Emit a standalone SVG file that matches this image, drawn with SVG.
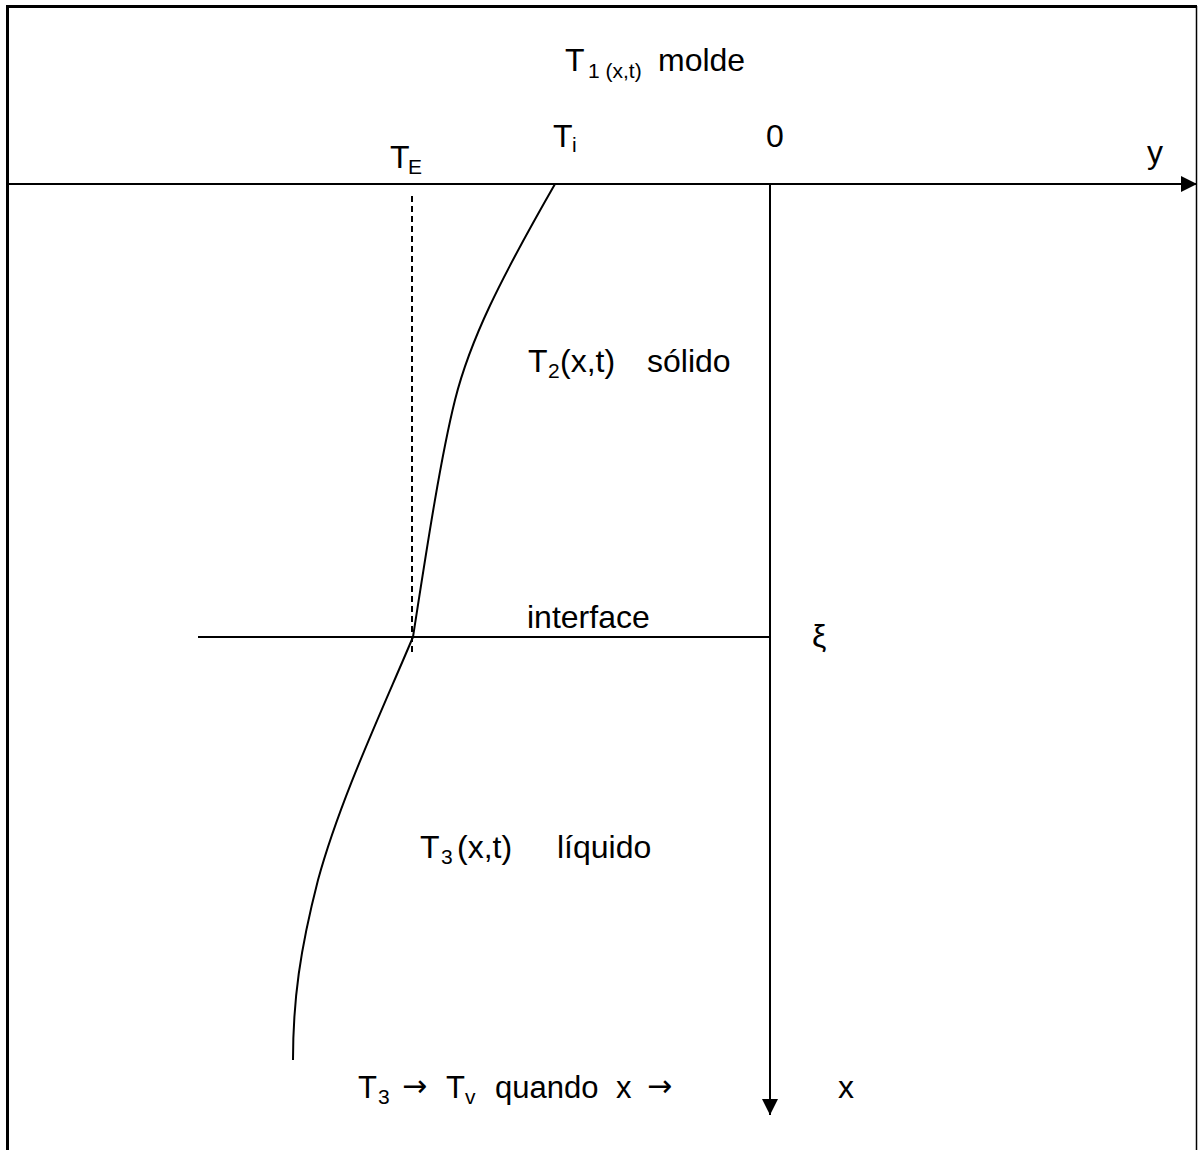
<svg xmlns="http://www.w3.org/2000/svg" width="1198" height="1150" viewBox="0 0 1198 1150">
<style>
text{font-family:"Liberation Sans",Arial,sans-serif;font-size:32px;fill:#000}
.sub{font-size:21px}
.b{font-size:31px}
.arr{font-family:"DejaVu Sans",sans-serif;font-size:30px}
.ln{stroke:#000;fill:none;stroke-width:2}
</style>
<defs>
<marker id="ahb" markerWidth="16" markerHeight="16" refX="16" refY="8" orient="auto" markerUnits="userSpaceOnUse" viewBox="0 0 16 16">
<path d="M0,0 L16,8 L0,16 z" fill="#000"/>
</marker>
</defs>
<rect width="1198" height="1150" fill="#fff"/>
<g id="frame">
<line x1="7.5" y1="6.5" x2="1197" y2="6.5" stroke="#000" stroke-width="3"/>
<line x1="7.5" y1="5" x2="7.5" y2="1150" stroke="#000" stroke-width="3"/>
<line x1="1196.5" y1="6" x2="1196.5" y2="1150" stroke="#000" stroke-width="1.5"/>
</g>
<g id="connectors">
<line class="ln" x1="8" y1="184" x2="1197" y2="184" stroke-width="2.5" marker-end="url(#ahb)"/>
<line class="ln" x1="770" y1="184" x2="770" y2="1115" marker-end="url(#ahb)"/>
<line class="ln" x1="198" y1="637" x2="770" y2="637"/>
<line class="ln" x1="412" y1="196" x2="412" y2="654" stroke-dasharray="6,4" stroke-width="1.5"/>
<path class="ln" d="M555,184 C500,280 470,340 455,400 C440,460 425,560 413,637" stroke-width="1.8"/>
<path class="ln" d="M413,637 C380,715 340,800 318,880 C300,950 293,1000 293,1060" stroke-width="1.8"/>
</g>
<g id="labels">
<text x="565" y="71">T<tspan class="sub" x="588" y="78">1 (x,t)</tspan><tspan x="658" y="71">molde</tspan></text>
<text x="553" y="147">T<tspan class="sub" x="572" y="152">i</tspan></text>
<text x="766" y="147">0</text>
<text x="390" y="168">T<tspan class="sub" x="408" y="174">E</tspan></text>
<text x="1147" y="163">y</text>
<text x="528" y="372">T<tspan class="sub" x="548" y="378">2</tspan><tspan x="560" y="372">(x,t)</tspan><tspan x="647" y="372">sólido</tspan></text>
<text x="527" y="628">interface</text>
<text x="812" y="647">ξ</text>
<text x="420" y="858">T<tspan class="sub" x="441" y="864">3</tspan><tspan x="457" y="858">(x,t)</tspan><tspan x="557" y="858">líquido</tspan></text>
<text class="b" x="358" y="1098">T<tspan class="sub" x="378" y="1104">3</tspan></text>
<text class="arr" x="402" y="1096">→</text>
<text class="b" x="446" y="1098">T<tspan class="sub" x="465" y="1104">v</tspan><tspan x="495" y="1098">quando</tspan><tspan x="616" y="1098">x</tspan></text>
<text class="arr" x="647" y="1096">→</text>
<text x="838" y="1098">x</text>
</g>
</svg>
